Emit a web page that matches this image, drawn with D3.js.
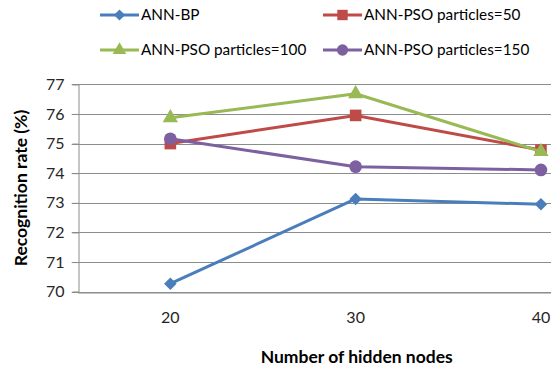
<!DOCTYPE html>
<html>
<head>
<meta charset="utf-8">
<script src="https://cdn.jsdelivr.net/npm/d3@7/dist/d3.min.js"></script>
<style>
  html, body { margin: 0; padding: 0; background: #fff; overflow: hidden; }
  svg { display: block; font-family: Lato, "Open Sans", sans-serif; }
</style>
</head>
<body>
<svg id="chart" width="551" height="370"></svg>
<script>
// Hidden-node counts on the category axis
const hiddenNodes = ["20", "30", "40"];
// Recognition rate (%) per method
const annBP    = [70.27, 73.13, 72.95];
const pso50    = [75.00, 75.95, 74.78];
const pso100   = [75.87, 76.68, 74.73];
const pso150   = [75.16, 74.22, 74.11];
const yTicks   = [70, 71, 72, 73, 74, 75, 76, 77];
const seriesNames = ["ANN-BP", "ANN-PSO particles=50", "ANN-PSO particles=100", "ANN-PSO particles=150"];

const series = [
  { name: seriesNames[0], values: annBP,  color: "#4A7EBB", symbol: d3.symbolDiamond2, size: 100 },
  { name: seriesNames[1], values: pso50,  color: "#BE4B48", symbol: d3.symbolSquare,   size: 135 },
  { name: seriesNames[2], values: pso100, color: "#98B954", symbol: d3.symbolTriangle, size: 100 },
  { name: seriesNames[3], values: pso150, color: "#7D60A0", symbol: d3.symbolCircle,   size: 125 }
];

const svg = d3.select("#chart");
const plotLeft = 77.7, plotTop = 84.3, plotBottom = 291.7;
const bandW = 185.3;

const x = d3.scaleBand().domain(hiddenNodes).range([plotLeft, plotLeft + bandW * hiddenNodes.length]).padding(0);
const y = d3.scaleLinear().domain([70, 77]).range([plotBottom, plotTop]);
const cx = d => x(d) + x.bandwidth() / 2;

// Horizontal gridlines
svg.append("g").selectAll("line").data(yTicks).join("line")
  .attr("x1", plotLeft - 6).attr("x2", 551)
  .attr("y1", d => Math.round(y(d)) + 0.5).attr("y2", d => Math.round(y(d)) + 0.5)
  .attr("stroke", "#8c8c8c").attr("stroke-width", 1);

// Y axis
const yAxis = svg.append("g").attr("transform", `translate(${Math.round(plotLeft) + 0.5},0)`)
  .call(d3.axisLeft(y).tickValues(yTicks).tickSize(6).tickPadding(8).tickFormat(d3.format("d")));
yAxis.select(".domain").attr("stroke", "#8c8c8c");
yAxis.selectAll(".tick line").attr("stroke", "#8c8c8c");
yAxis.selectAll(".tick text").attr("font-size", 16).attr("fill", "#262626")
  .attr("font-family", "Lato, sans-serif");

// X axis
const xAxis = svg.append("g").attr("transform", `translate(0,${Math.round(plotBottom) + 0.5})`)
  .call(d3.axisBottom(x).tickSize(0).tickPadding(19));
xAxis.select(".domain").attr("stroke", "#8c8c8c");
xAxis.selectAll(".tick text").attr("font-size", 16).attr("fill", "#262626")
  .attr("font-family", "Lato, sans-serif");

// Lines and markers
const line = d3.line().x((d, i) => cx(hiddenNodes[i])).y(d => y(d));
series.forEach(s => {
  svg.append("path").datum(s.values).attr("d", line)
    .attr("fill", "none").attr("stroke", s.color).attr("stroke-width", 3)
    .attr("stroke-linejoin", "round");
  svg.append("g").selectAll("path").data(s.values).join("path")
    .attr("transform", (d, i) => `translate(${cx(hiddenNodes[i])},${y(d)})`)
    .attr("d", d3.symbol().type(s.symbol).size(s.size))
    .attr("fill", s.color);
});

// Legend (two rows, two columns)
const legendPos = [[100, 15], [323, 15], [100, 50], [323, 50]];
series.forEach((s, i) => {
  const [lx, ly] = legendPos[i];
  const g = svg.append("g").attr("transform", `translate(${lx},${ly})`);
  g.append("line").attr("x1", 0).attr("x2", 39).attr("y1", 0).attr("y2", 0)
    .attr("stroke", s.color).attr("stroke-width", 3);
  g.append("path").attr("transform", "translate(19.5,0)")
    .attr("d", d3.symbol().type(s.symbol).size(s.size * 0.8)).attr("fill", s.color);
  g.append("text").attr("x", 41).attr("y", 0).attr("dy", "0.35em")
    .attr("font-size", 15.3).attr("fill", "#000").text(s.name);
});

// Axis titles
svg.append("text").attr("x", 356.7).attr("y", 357).attr("dy", "0.35em")
  .attr("text-anchor", "middle").attr("font-size", 17.5).attr("font-weight", "bold")
  .attr("fill", "#000").text("Number of hidden nodes");
svg.append("text").attr("transform", "translate(21,188) rotate(-90)").attr("dy", "0.35em")
  .attr("text-anchor", "middle").attr("font-size", 17.5).attr("font-weight", "bold")
  .attr("fill", "#000").text("Recognition rate (%)");
</script>
</body>
</html>
